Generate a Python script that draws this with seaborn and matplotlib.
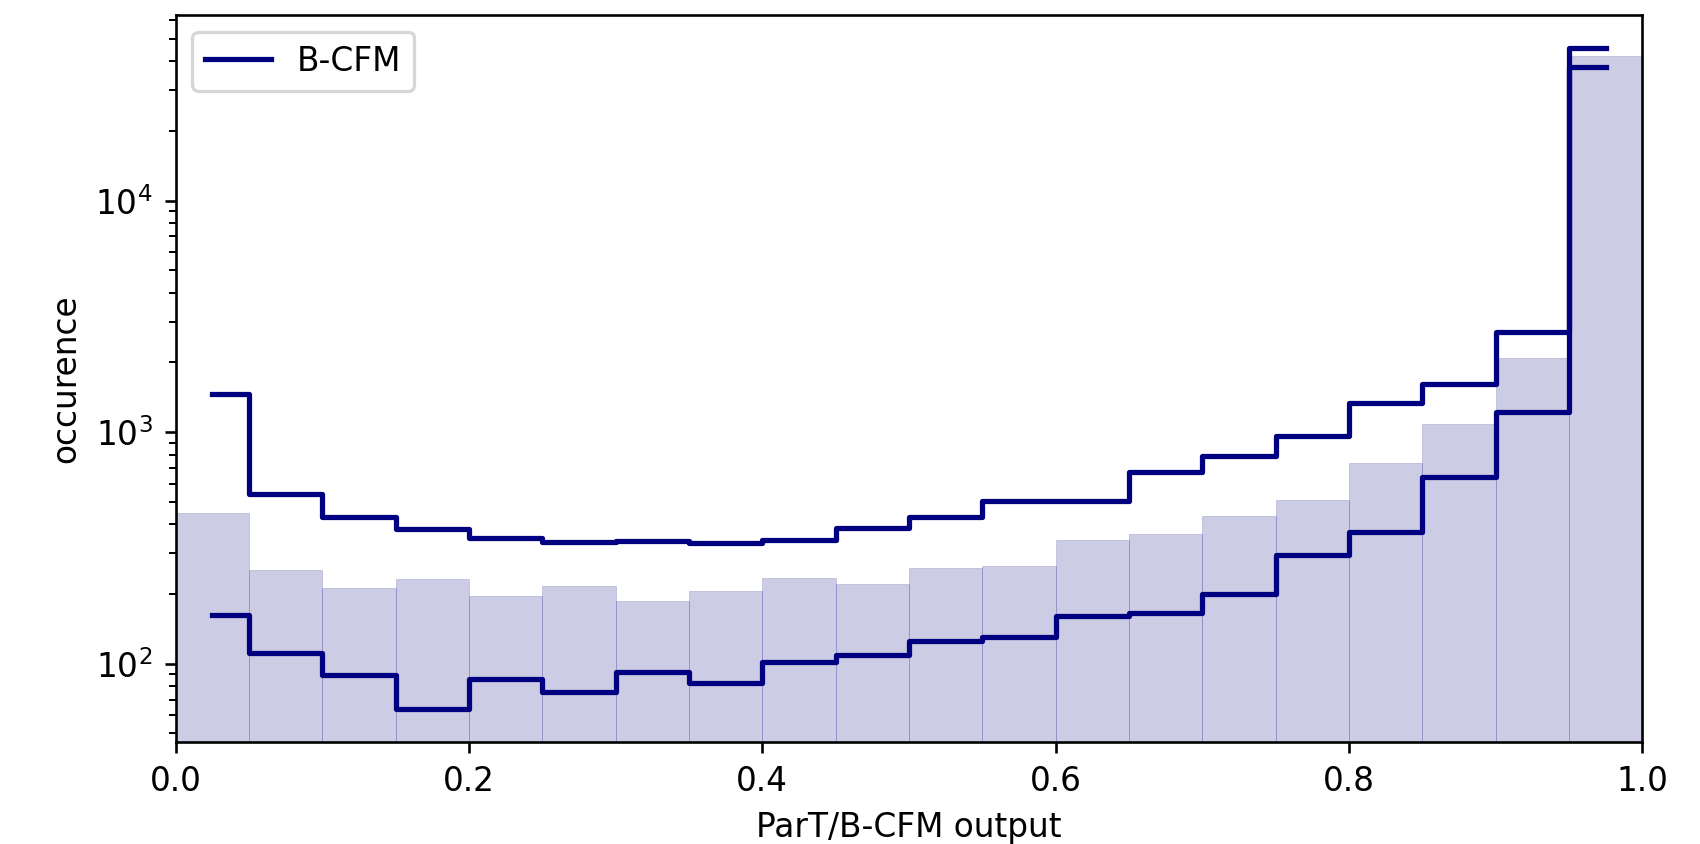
import numpy as np
import pandas as pd
import matplotlib
matplotlib.use("Agg")
import matplotlib.pyplot as plt
import seaborn as sns

bin_edges = [round(0.05 * i, 2) for i in range(21)]
bin_centers = [round(0.025 + 0.05 * i, 3) for i in range(20)]

hist_counts = [448, 253, 213, 232, 197, 217, 187, 206, 235, 222,
               258, 264, 342, 365, 433, 510, 736, 1083, 2094, 42000]
upper_band = [1466, 543, 429, 381, 349, 335, 338, 331, 342, 385,
              429, 504, 503, 675, 793, 963, 1332, 1616, 2710, 45700]
lower_band = [162, 111, 89, 63.5, 86, 75.5, 91.8, 82.4, 102, 109,
              125, 130, 161, 166, 201, 294, 372, 640, 1222, 37700]

df = pd.DataFrame({"x": bin_centers, "hist": hist_counts,
                   "upper": upper_band, "lower": lower_band})

DPI = 236
fig, ax = plt.subplots(figsize=(1700 / DPI, 844 / DPI), dpi=DPI)
fig.subplots_adjust(left=0.1033, right=0.966, top=0.982, bottom=0.121)

sns.histplot(data=df, x="x", weights="hist", bins=bin_edges, color="navy",
             alpha=0.2, linewidth=0.3, edgecolor=(0, 0, 0.5, 0.15), ax=ax)
sns.lineplot(data=df, x="x", y="upper", color="navy", linewidth=1.6,
             drawstyle="steps-mid", label="B-CFM", ax=ax)
sns.lineplot(data=df, x="x", y="lower", color="navy", linewidth=1.6,
             drawstyle="steps-mid", ax=ax)

ax.set_yscale("log")
ax.set_xlim(0, 1)
ax.set_ylim(46, 63200)
ax.set_xlabel("ParT/B-CFM output")
ax.set_ylabel("occurence")
ax.legend(loc="upper left")

fig.savefig("out.png", dpi=DPI)
